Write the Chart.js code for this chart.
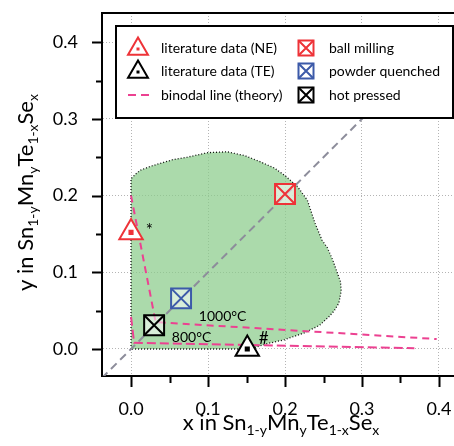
<!DOCTYPE html>
<html>
<head>
<meta charset="utf-8">
<script src="https://cdn.jsdelivr.net/npm/chart.js@4/dist/chart.umd.min.js"></script>
<style>
  html, body { margin: 0; padding: 0; background: #fff; overflow: hidden; }
  #wrap { position: relative; width: 454px; height: 446px; }
</style>
</head>
<body>
<div id="wrap"><canvas id="phaseMap" width="454" height="446"></canvas></div>
<script>
// axis ranges and ticks
const xRange = [-0.0377, 0.4195];
const yRange = [-0.0352, 0.438];
const majorTicks = [0, 0.1, 0.2, 0.3, 0.4];
const minorTicks = [0.05, 0.15, 0.25, 0.35];
const tickLabels = ['0.0', '0.1', '0.2', '0.3', '0.4'];

// single phase region outline
const regionX = [0, 0, 0.006, 0.012, 0.025, 0.038, 0.055, 0.073, 0.1, 0.125, 0.148, 0.168, 0.186, 0.2,
  0.216, 0.229, 0.239, 0.248, 0.255, 0.262, 0.268, 0.272, 0.273, 0.27, 0.264, 0.258, 0.245, 0.225,
  0.199, 0.177, 0.164, 0.155, 0];
const regionY = [0, 0.222, 0.228, 0.233, 0.238, 0.242, 0.247, 0.25, 0.256, 0.257, 0.252, 0.244, 0.236, 0.226,
  0.212, 0.194, 0.164, 0.142, 0.132, 0.116, 0.099, 0.088, 0.076, 0.06, 0.05, 0.043, 0.031, 0.021,
  0.012, 0.007, 0.003, 0, 0];

// x = y guide
const diagX = [-0.05, 0.45];
const diagY = [-0.05, 0.45];

// binodal lines from theory
const binodal1000X = [0, 0.032, 0.397];
const binodal1000Y = [0.2, 0.035, 0.013];
const binodal800X = [0, 0.004, 0.368];
const binodal800Y = [0.042, 0.008, 0.001];

// samples
const litNeX = [0];
const litNeY = [0.152];
const litTeX = [0.151];
const litTeY = [0.0];
const ballMillX = [0.2];
const ballMillY = [0.202];
const quenchX = [0.065];
const quenchY = [0.066];
const hotPressX = [0.03];
const hotPressY = [0.031];

const FONT = 'Lato, "Open Sans", sans-serif';
const RED = '#ee3338';
const BLUE = '#3c5aa9';
const PINK = '#ec4191';

const pts = (xs, ys) => xs.map((x, i) => ({ x: x, y: ys[i] }));

function markerSet(xs, ys, style, radius, color, fill, order) {
  return {
    data: pts(xs, ys),
    showLine: false,
    pointStyle: style,
    pointRadius: radius,
    pointBorderColor: color,
    pointBackgroundColor: fill,
    pointBorderWidth: 2,
    order: order
  };
}

// text with subscripts, centred on (cx, baseline)
function drawRich(ctx, parts, cx, baseline, size, subSize) {
  const fontOf = p => (p.sub ? subSize : size) + 'px ' + FONT;
  let total = 0;
  parts.forEach(p => { ctx.font = fontOf(p); total += ctx.measureText(p.t).width; });
  let x = cx - total / 2;
  ctx.textAlign = 'left';
  ctx.textBaseline = 'alphabetic';
  parts.forEach(p => {
    ctx.font = fontOf(p);
    ctx.fillText(p.t, x, baseline + (p.sub ? 5 : 0));
    x += ctx.measureText(p.t).width;
  });
}

function triangle(ctx, x, y, r, color) {
  ctx.beginPath();
  for (let k = 0; k < 3; k++) {
    const a = k * 2 * Math.PI / 3;
    const px = x + Math.sin(a) * r, py = y - Math.cos(a) * r;
    if (k === 0) ctx.moveTo(px, py); else ctx.lineTo(px, py);
  }
  ctx.closePath();
  ctx.fillStyle = '#fff';
  ctx.fill();
  ctx.strokeStyle = color;
  ctx.lineWidth = 2;
  ctx.stroke();
  ctx.fillStyle = color;
  ctx.fillRect(x - 1.5, y - 1.5, 3, 3);
}

function crossBox(ctx, x, y, h, color) {
  ctx.strokeStyle = color;
  ctx.lineWidth = 2;
  ctx.strokeRect(x - h, y - h, 2 * h, 2 * h);
  ctx.beginPath();
  ctx.moveTo(x - h, y - h); ctx.lineTo(x + h, y + h);
  ctx.moveTo(x + h, y - h); ctx.lineTo(x - h, y + h);
  ctx.stroke();
}

const decorations = {
  id: 'decorations',
  afterDraw(chart) {
    const { ctx, chartArea: a, scales: { x: xs, y: ys } } = chart;
    ctx.save();

    // top frame line
    ctx.strokeStyle = '#000';
    ctx.lineWidth = 2;
    ctx.beginPath();
    ctx.moveTo(a.left - 1, a.top);
    ctx.lineTo(a.right, a.top);
    ctx.stroke();

    // outward tick marks
    ctx.beginPath();
    majorTicks.forEach(v => {
      const px = Math.round(xs.getPixelForValue(v)) + 0.5;
      ctx.moveTo(px, a.bottom); ctx.lineTo(px, a.bottom + 11);
      const py = Math.round(ys.getPixelForValue(v)) + 0.5;
      ctx.moveTo(a.left, py); ctx.lineTo(a.left - 10, py);
    });
    minorTicks.forEach(v => {
      const px = Math.round(xs.getPixelForValue(v)) + 0.5;
      ctx.moveTo(px, a.bottom); ctx.lineTo(px, a.bottom + 7);
      const py = Math.round(ys.getPixelForValue(v)) + 0.5;
      ctx.moveTo(a.left, py); ctx.lineTo(a.left - 6, py);
    });
    ctx.stroke();

    ctx.fillStyle = '#000';
    // axis titles
    drawRich(ctx, [
      { t: 'x in Sn' }, { t: '1-y', sub: true }, { t: 'Mn' }, { t: 'y', sub: true },
      { t: 'Te' }, { t: '1-x', sub: true }, { t: 'Se' }, { t: 'x', sub: true }
    ], (a.left + a.right) / 2 + 3, 430, 22, 14);
    ctx.save();
    ctx.translate(33, (a.top + a.bottom) / 2 - 2);
    ctx.rotate(-Math.PI / 2);
    drawRich(ctx, [
      { t: 'y in Sn' }, { t: '1-y', sub: true }, { t: 'Mn' }, { t: 'y', sub: true },
      { t: 'Te' }, { t: '1-x', sub: true }, { t: 'Se' }, { t: 'x', sub: true }
    ], 0, 0, 22, 14);
    ctx.restore();

    // temperature and sample notes
    ctx.textAlign = 'left';
    ctx.textBaseline = 'middle';
    ctx.font = '14px ' + FONT;
    ctx.fillText('1000\u00B0C', xs.getPixelForValue(0.088), ys.getPixelForValue(0.043));
    ctx.fillText('800\u00B0C', xs.getPixelForValue(0.053), ys.getPixelForValue(0.0156));
    ctx.font = '17px ' + FONT;
    ctx.fillText('*', xs.getPixelForValue(0.019), ys.getPixelForValue(0.155));
    ctx.fillText('#', xs.getPixelForValue(0.166), ys.getPixelForValue(0.014));

    // legend box
    ctx.fillStyle = '#fff';
    ctx.fillRect(116, 26, 337, 92);
    ctx.strokeStyle = '#000';
    ctx.lineWidth = 2;
    ctx.strokeRect(116, 26, 337, 92);

    const rows = [48, 71, 95];
    triangle(ctx, 138, rows[0] + 1, 11.5, RED);
    triangle(ctx, 138, rows[1] + 1, 11.5, '#000');
    ctx.strokeStyle = PINK;
    ctx.lineWidth = 2;
    ctx.setLineDash([8, 5]);
    ctx.beginPath();
    ctx.moveTo(128, rows[2]); ctx.lineTo(150, rows[2]);
    ctx.stroke();
    ctx.setLineDash([]);
    crossBox(ctx, 306, rows[0], 7.5, RED);
    crossBox(ctx, 306, rows[1], 7.5, BLUE);
    crossBox(ctx, 306, rows[2], 7.5, '#000');

    ctx.fillStyle = '#000';
    ctx.font = '14px ' + FONT;
    ctx.textBaseline = 'middle';
    ['literature data (NE)', 'literature data (TE)', 'binodal line (theory)'].forEach((t, i) => ctx.fillText(t, 161, rows[i]));
    ['ball milling', 'powder quenched', 'hot pressed'].forEach((t, i) => ctx.fillText(t, 329, rows[i]));

    ctx.restore();
  }
};

const setTicks = scale => { scale.ticks = majorTicks.map(v => ({ value: v })); };
const tickLabel = v => tickLabels[majorTicks.findIndex(m => Math.abs(m - v) < 1e-9)] ?? '';
// fixed axis band, no extra room for overhanging labels
const fixBand = (s, w, h) => {
  if (w) s.width = w;
  if (h) s.height = h;
  s.paddingLeft = s.paddingRight = s.paddingTop = s.paddingBottom = 0;
};

new Chart(document.getElementById('phaseMap'), {
  type: 'line',
  data: {
    datasets: [
      {
        data: pts(regionX, regionY),
        borderColor: '#111',
        borderWidth: 1.3,
        borderDash: [1, 2],
        backgroundColor: 'rgba(139, 204, 139, 0.72)',
        fill: 'shape',
        pointRadius: 0,
        tension: 0,
        order: 10
      },
      {
        data: pts(diagX, diagY),
        borderColor: '#8d8d9b',
        borderWidth: 2,
        borderDash: [8, 5],
        pointRadius: 0,
        fill: false,
        order: 9
      },
      {
        data: pts(binodal1000X, binodal1000Y),
        borderColor: PINK,
        borderWidth: 2,
        borderDash: [7, 5],
        pointRadius: 0,
        fill: false,
        order: 8
      },
      {
        data: pts(binodal800X, binodal800Y),
        borderColor: PINK,
        borderWidth: 2,
        borderDash: [9, 4],
        pointRadius: 0,
        fill: false,
        order: 8
      },
      markerSet(litNeX, litNeY, 'triangle', 13.5, RED, '#fff', 3),
      markerSet(litNeX, litNeY, 'rect', 2.2, RED, RED, 2),
      markerSet(litTeX, litTeY, 'triangle', 13.5, '#000', '#fff', 3),
      markerSet(litTeX, litTeY, 'rect', 2.2, '#000', '#000', 2),
      markerSet(ballMillX, ballMillY, 'rect', 14.1, RED, 'rgba(255,255,255,0.55)', 3),
      markerSet(ballMillX, ballMillY, 'crossRot', 14.1, RED, RED, 2),
      markerSet(quenchX, quenchY, 'rect', 14.1, BLUE, 'rgba(255,255,255,0.55)', 3),
      markerSet(quenchX, quenchY, 'crossRot', 14.1, BLUE, BLUE, 2),
      markerSet(hotPressX, hotPressY, 'rect', 14.1, '#000', 'rgba(255,255,255,0.55)', 3),
      markerSet(hotPressX, hotPressY, 'crossRot', 14.1, '#000', '#000', 2)
    ]
  },
  options: {
    responsive: false,
    animation: false,
    events: [],
    layout: { autoPadding: false, padding: { top: 13, right: 0, bottom: 0, left: 0 } },
    plugins: { legend: { display: false }, tooltip: { enabled: false } },
    scales: {
      x: {
        type: 'linear',
        min: xRange[0],
        max: xRange[1],
        afterBuildTicks: setTicks,
        afterFit: s => fixBand(s, 0, 70),
        grid: { color: '#b4b4b4', lineWidth: 1, drawTicks: false },
        border: { display: true, color: '#000', width: 2, dash: [1, 2] },
        ticks: { padding: 22, color: '#000', font: { family: FONT, size: 18 }, callback: tickLabel }
      },
      y: {
        type: 'linear',
        min: yRange[0],
        max: yRange[1],
        afterBuildTicks: setTicks,
        afterFit: s => fixBand(s, 102, 0),
        grid: { color: '#b4b4b4', lineWidth: 1, drawTicks: false },
        border: { display: true, color: '#000', width: 2, dash: [1, 2] },
        ticks: { padding: 24, color: '#000', font: { family: FONT, size: 18 }, callback: tickLabel }
      }
    }
  },
  plugins: [decorations]
});
</script>
</body>
</html>
